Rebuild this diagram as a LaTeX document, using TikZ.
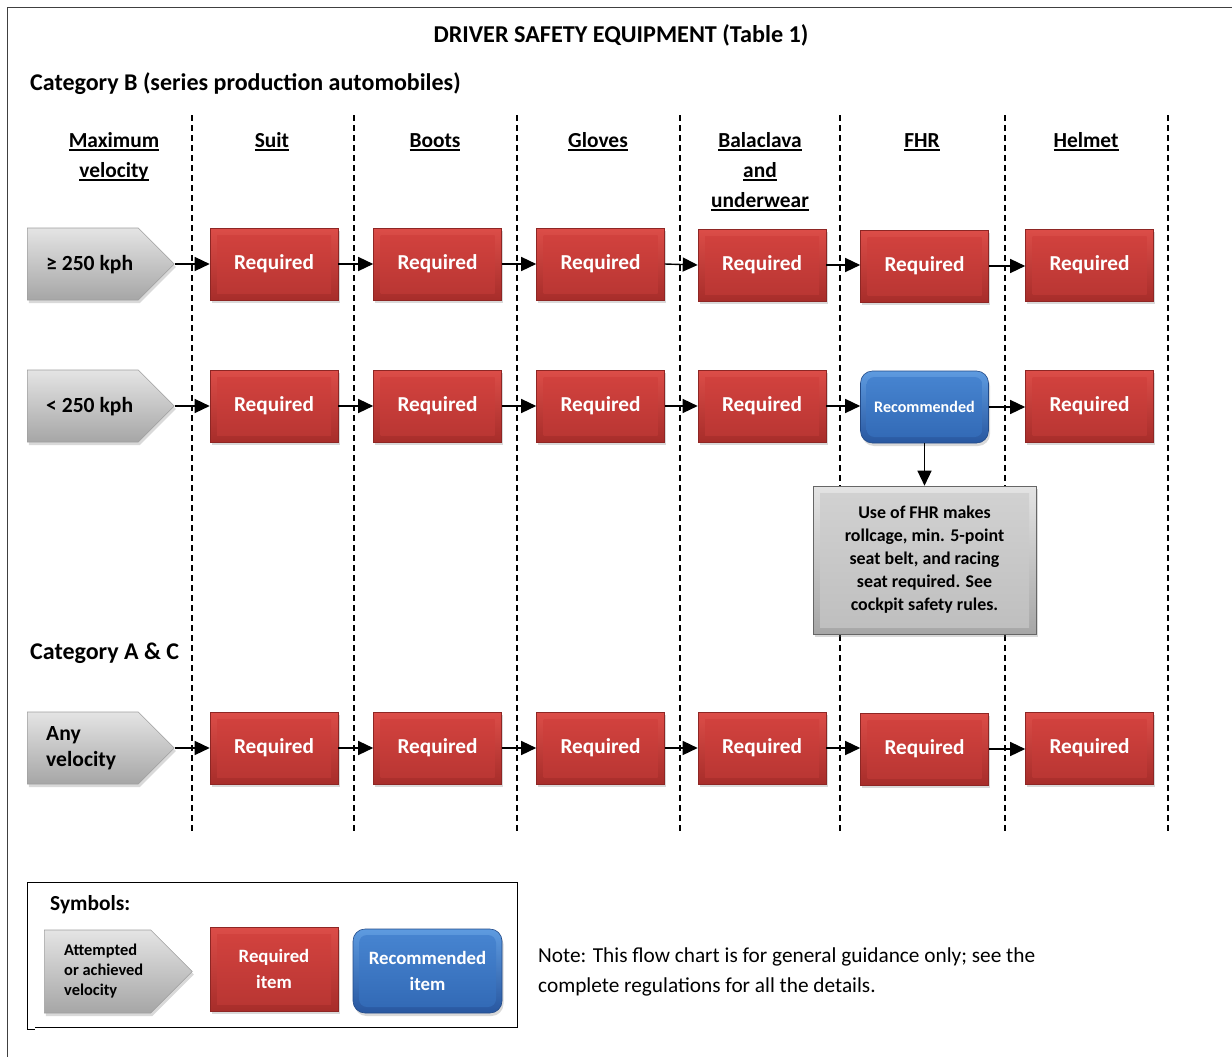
\documentclass[tikz,border=0pt]{standalone}
\usepackage{fontspec}
\setmainfont{Carlito}
\newcommand{\hdrul}[1]{\setbox0\hbox{#1}\rlap{\rule[-3.8pt]{\wd0}{1.7pt}}\box0}
\usetikzlibrary{shapes.symbols,shadows,arrows.meta}
\definecolor{redtop}{HTML}{DC4D48}
\definecolor{redbot}{HTML}{A72D2A}
\definecolor{redinA}{HTML}{D4433F}
\definecolor{redinB}{HTML}{B73532}
\definecolor{bluetop}{HTML}{5E9BE0}
\definecolor{bluebot}{HTML}{2857A0}
\definecolor{blueinA}{HTML}{4886D2}
\definecolor{blueinB}{HTML}{3168B4}
\definecolor{graytop}{HTML}{E4E4E4}
\definecolor{graybot}{HTML}{A6A6A6}
\definecolor{grayinA}{HTML}{D2D2D2}
\definecolor{grayinB}{HTML}{BEBEBE}
\definecolor{framecol}{HTML}{404040}
\tikzset{
  shadowed/.style={drop shadow={shadow xshift=1.5pt,shadow yshift=-3pt,opacity=0.3}},
  reqbox/.style={rectangle,minimum width=128pt,minimum height=72pt,inner sep=0pt,
    top color=redtop,bottom color=redbot,draw=redbot!85!black,line width=0.6pt,shadowed,
    text=white,font=\bfseries\fontsize{21.3}{25}\selectfont,
    path picture={\shade[top color=redinA,bottom color=redinB]
      ([shift={(7pt,-7pt)}]path picture bounding box.north west) rectangle
      ([shift={(-7pt,7pt)}]path picture bounding box.south east);}},
  recbox/.style={rectangle,rounded corners=12pt,minimum width=128pt,minimum height=72pt,inner sep=0pt,
    top color=bluetop,bottom color=bluebot,draw=bluebot!85!black,line width=0.6pt,shadowed,
    text=white,font=\bfseries\fontsize{16.1}{19}\selectfont,
    path picture={\shade[top color=blueinA,bottom color=blueinB,rounded corners=8pt]
      ([shift={(6pt,-6pt)}]path picture bounding box.north west) rectangle
      ([shift={(-6pt,6pt)}]path picture bounding box.south east);}},
  notebox/.style={rectangle,minimum width=223pt,minimum height=148pt,inner sep=0pt,
    top color=graytop,bottom color=graybot,draw=gray!80!black,line width=0.6pt,shadowed,
    align=center,font=\bfseries\fontsize{17.9}{23}\selectfont,
    path picture={\shade[top color=grayinA,bottom color=grayinB]
      ([shift={(7pt,-7pt)}]path picture bounding box.north west) rectangle
      ([shift={(-7pt,7pt)}]path picture bounding box.south east);}},
  velbox/.style={signal,signal to=east,signal pointer angle=90,inner sep=0pt,
    minimum width=147pt,minimum height=72pt,anchor=west,
    top color=graytop,bottom color=graybot,draw=gray!75,line width=0.6pt,shadowed},
  veltext/.style={anchor=west,align=left,inner sep=0pt,font=\bfseries\fontsize{21.6}{26}\selectfont},
  hdr/.style={anchor=base,inner sep=0pt,font=\bfseries\fontsize{21.4}{24}\selectfont},
  heading/.style={anchor=base west,inner sep=0pt,font=\bfseries\fontsize{24}{28}\selectfont},
  conn/.style={line width=1.4pt,-{Triangle[length=15pt,width=14pt]}},
  dashline/.style={line width=1.1pt,dash pattern=on 6pt off 4pt},
}
\begin{document}
\begin{tikzpicture}[x=1pt,y=-1pt]
\useasboundingbox (0,0) rectangle (1232,1057);
% frame
\draw[framecol,line width=1pt] (1232,8) -- (7.5,8) -- (7.5,1057);
% title and headings
\node[anchor=base,inner sep=0pt,font=\bfseries\fontsize{24.2}{28}\selectfont] (title) at (621,43) {DRIVER SAFETY EQUIPMENT (Table 1)};
\node[heading] (catB) at (30,91) {Category B (series production automobiles)};
\node[heading] (catAC) at (30,659) {Category A \& C};
% dashed column separators
\foreach \xx in {192,354,517,680,840,1005,1168}
  \draw[dashline] (\xx,115) -- (\xx,833);
% column headers
\node[hdr] (hmaxA) at (114,147) {\hdrul{Maximum}};
\node[hdr] (hmaxB) at (114,177) {\hdrul{velocity}};
\node[hdr] (hsuit) at (272,147) {\hdrul{Suit}};
\node[hdr] (hboots) at (435,147) {\hdrul{Boots}};
\node[hdr] (hgloves) at (598,147) {\hdrul{Gloves}};
\node[hdr] (hbalA) at (760,147) {\hdrul{Balaclava}};
\node[hdr] (hbalB) at (760,177) {\hdrul{and}};
\node[hdr] (hbalC) at (760,207) {\hdrul{underwear}};
\node[hdr] (hfhr) at (922,147) {\hdrul{FHR}};
\node[hdr] (hhelmet) at (1086,147) {\hdrul{Helmet}};
% row 1
\node[velbox] (vA) at (27,264) {};
\node[veltext] (vAt) at ([xshift=19pt,yshift=-1pt]vA.west) {≥ 250 kph};
\node[reqbox] (a1) at (274,264) {Required};
\node[reqbox] (a2) at (437.5,264) {Required};
\node[reqbox] (a3) at (600.5,264) {Required};
\node[reqbox] (a4) at (762,265) {Required};
\node[reqbox] (a5) at (924.5,266) {Required};
\node[reqbox] (a6) at (1089.5,265) {Required};
\draw[conn] (vA.east) -- (a1.west);
\draw[conn] (a1.east) -- (a2.west);
\draw[conn] (a2.east) -- (a3.west);
\draw[conn] (a3.east) -- (a4.west);
\draw[conn] (a4.east) -- (a5.west |- a4.east);
\draw[conn] (a5.east) -- (a6.west |- a5.east);
% row 2
\node[velbox] (vB) at (27,406) {};
\node[veltext] (vBt) at ([xshift=19pt,yshift=-1pt]vB.west) {< 250 kph};
\node[reqbox] (b1) at (274,406) {Required};
\node[reqbox] (b2) at (437.5,406) {Required};
\node[reqbox] (b3) at (600.5,406) {Required};
\node[reqbox] (b4) at (762,406) {Required};
\node[recbox] (b5) at (924.5,407) {Recommended};
\node[reqbox] (b6) at (1089.5,406) {Required};
\draw[conn] (vB.east) -- (b1.west);
\draw[conn] (b1.east) -- (b2.west);
\draw[conn] (b2.east) -- (b3.west);
\draw[conn] (b3.east) -- (b4.west);
\draw[conn] (b4.east) -- (b5.west |- b4.east);
\draw[conn] (b5.east) -- (b6.west |- b5.east);
% FHR note
\node[notebox] (note) at (924.5,560) {Use of FHR makes\\rollcage, min. 5-point\\seat belt, and racing\\seat required. See\\cockpit safety rules.};
\draw[conn] (b5.south) -- (note.north);
% row 3
\node[velbox] (vC) at (27,748) {};
\node[veltext] (vCt) at ([xshift=19pt]vC.west) {Any\\velocity};
\node[reqbox] (c1) at (274,748) {Required};
\node[reqbox] (c2) at (437.5,748) {Required};
\node[reqbox] (c3) at (600.5,748) {Required};
\node[reqbox] (c4) at (762,748) {Required};
\node[reqbox] (c5) at (924.5,749) {Required};
\node[reqbox] (c6) at (1089.5,748) {Required};
\draw[conn] (vC.east) -- (c1.west);
\draw[conn] (c1.east) -- (c2.west);
\draw[conn] (c2.east) -- (c3.west);
\draw[conn] (c3.east) -- (c4.west);
\draw[conn] (c4.east) -- (c5.west |- c4.east);
\draw[conn] (c5.east) -- (c6.west |- c5.east);
% legend
\node[minimum width=490pt,minimum height=145pt,anchor=north west,inner sep=0pt] (legend) at (27,882) {};
\draw[black,line width=1pt] ([yshift=-2pt]legend.south west) -- (legend.north west) -- (legend.north east) -- (legend.south east) -- ([xshift=8pt]legend.south west);
\draw[black,line width=1pt] ([yshift=-2pt]legend.south west) -- ([xshift=8pt,yshift=-2pt]legend.south west);
\node[anchor=base west,inner sep=0pt,font=\bfseries\fontsize{21.4}{24}\selectfont] (symbols) at (50,910) {Symbols:};
\node[velbox,minimum width=148pt,minimum height=83pt] (lv) at (44,971.5) {};
\node[veltext,font=\bfseries\fontsize{16.4}{20}\selectfont] (lvt) at ([xshift=20pt]lv.west) {Attempted\\or achieved\\velocity};
\node[reqbox,minimum height=84pt,align=center,font=\bfseries\fontsize{18.8}{26}\selectfont] (lr) at (274,969) {Required\\item};
\node[recbox,minimum width=149pt,minimum height=84pt,align=center,font=\bfseries\fontsize{18.8}{26}\selectfont] (lb) at (427.5,971) {Recommended\\item};
\node[anchor=west,align=left,inner sep=0pt,font=\fontsize{21.3}{30}\selectfont] (notetext) at (538,972) {Note: This flow chart is for general guidance only; see the\\complete regulations for all the details.};
\end{tikzpicture}
\end{document}
